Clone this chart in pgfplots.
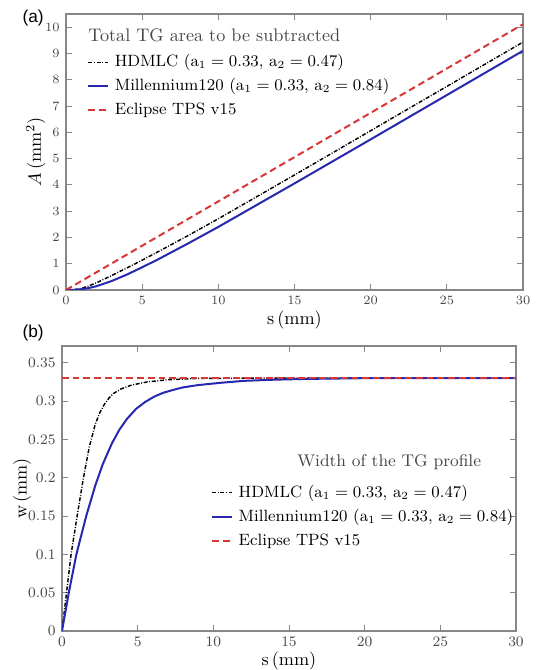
\documentclass[border=0pt]{standalone}
\usepackage{fontspec}
\usepackage{pgfplots}
\pgfplotsset{compat=1.18}
\newfontfamily\panelfont{Liberation Sans}

\definecolor{mblue}{RGB}{40,40,175}
\definecolor{mred}{RGB}{215,55,55}
\definecolor{axgray}{RGB}{135,135,135}
\definecolor{txtgray}{RGB}{70,70,70}

\pgfplotsset{
  panel/.style={
    scale only axis,
    anchor=south west,
    xmin=0, xmax=30, xtick={0,5,...,30},
    axis line style={axgray, line width=0.6pt},
    tick style={axgray, line width=0.5pt},
    major tick length=3.3pt,
    tick align=inside,
    tick label style={txtgray},
    label style={font=\fontsize{10}{12}\selectfont, txtgray},
    legend cell align=left,
    legend style={draw=none, fill=none, inner sep=0pt, row sep=1.2pt,
      column sep=2pt, anchor=north west, font=\fontsize{9}{11}\selectfont,
      nodes={inner sep=1pt, text height=7.5pt, text depth=2.5pt}},
    legend image code/.code={\draw[##1] (0pt,0pt) -- (11pt,0pt);},
  },
  hdmlc/.style={black, line width=0.8pt, dash pattern=on 2.2pt off 0.9pt on 0.5pt off 0.9pt},
  mill/.style={mblue, line width=1.1pt},
  ecl/.style={mred, line width=1.1pt, dash pattern=on 3.7pt off 2.2pt},
}

\begin{document}
\begin{tikzpicture}
\useasboundingbox (0,0) rectangle (294.8pt,368.5pt);

% (a) total area
\begin{axis}[panel,
  at={(36.3pt,209pt)}, width=251.35pt, height=151.8pt,
  ymin=0, ymax=10.5, ytick={0,1,...,10},
  tick label style={font=\fontsize{7.2}{8}\selectfont},
  xlabel={s\,(mm)}, ylabel={$A\,(\mathrm{mm}^2)$},
  every axis x label/.style={at={(axis description cs:0.5,-0.109)}, anchor=center},
  every axis y label/.style={at={(axis description cs:-0.066,0.5)}, rotate=90, anchor=center},
  legend style={at={(axis description cs:0.046,0.866)}},
]
\addplot[hdmlc] coordinates {
 (0,0) (0.5,0.01) (1,0.057) (1.5,0.156) (2,0.274) (3,0.551) (4,0.838) (5,1.135)
 (6,1.442) (8,2.066) (10,2.71) (15,4.375) (20,6.06) (25,7.745) (30,9.43)};
\addlegendentry{HDMLC ($\mathrm{a_1 = 0.33}$, $\mathrm{a_2 = 0.47}$)}
\addplot[mill] coordinates {
 (0,0) (0.5,0.0035) (1,0.027) (1.5,0.0755) (2,0.144) (3,0.341) (4,0.588) (5,0.865)
 (6,1.152) (8,1.766) (10,2.40) (15,4.055) (20,5.73) (25,7.415) (30,9.10)};
\addlegendentry{Millennium120 ($\mathrm{a_1 = 0.33}$, $\mathrm{a_2 = 0.84}$)}
\addplot[ecl] coordinates {(0,0) (30,10.11)};
\addlegendentry{Eclipse TPS v15}
\end{axis}
\node[anchor=base west, inner sep=0pt, font=\fontsize{10}{12}\selectfont, txtgray] at (48.4pt,345.6pt) {Total TG area to be subtracted};

% (b) width
\begin{axis}[panel,
  at={(34.1pt,21.45pt)}, width=249.7pt, height=156.75pt,
  ymin=0, ymax=0.372, ytick={0,0.05,0.1,0.15,0.2,0.25,0.3,0.35},
  yticklabel style={/pgf/number format/fixed},
  tick label style={font=\fontsize{8}{9}\selectfont},
  xlabel={s\,(mm)}, ylabel={w\,(mm)},
  every axis x label/.style={at={(axis description cs:0.5,-0.105)}, anchor=center},
  every axis y label/.style={at={(axis description cs:-0.088,0.5)}, rotate=90, anchor=center},
  legend style={at={(axis description cs:0.328,0.525)}},
]
\addplot[hdmlc] coordinates {
 (0,0) (0.3,0.05) (0.6,0.1) (1.0,0.15) (1.4,0.198) (1.8,0.24) (2.2,0.27) (2.5,0.285)
 (2.8,0.296) (3.1,0.304) (3.4,0.31) (3.9,0.316) (4.6,0.321) (5.6,0.325) (7,0.328)
 (9,0.3297) (12,0.33) (30,0.33)};
\addlegendentry{HDMLC ($\mathrm{a_1 = 0.33}$, $\mathrm{a_2 = 0.47}$)}
\addplot[mill] coordinates {
 (0,0) (0.45,0.05) (0.95,0.1) (1.6,0.15) (2.2,0.19) (2.7,0.218) (3.3,0.245) (3.8,0.263)
 (4.3,0.277) (4.9,0.29) (5.5,0.299) (6.1,0.306) (6.7,0.311) (7.4,0.315) (8,0.318)
 (9,0.321) (10.5,0.324) (12,0.3265) (14,0.328) (16,0.329) (20,0.33) (30,0.33)};
\addlegendentry{Millennium120 ($\mathrm{a_1 = 0.33}$, $\mathrm{a_2 = 0.84}$)}
\addplot[ecl] coordinates {(0,0.33) (30,0.33)};
\addlegendentry{Eclipse TPS v15}
\end{axis}
\node[anchor=base west, inner sep=0pt, font=\fontsize{9.3}{11}\selectfont, txtgray] at (163.35pt,111.65pt) {Width of the TG profile};

\node[font=\panelfont\fontsize{9.5}{11}\selectfont] at (18.2pt,358.6pt) {(a)};
\node[font=\panelfont\fontsize{9.5}{11}\selectfont] at (18.2pt,185.2pt) {(b)};
\end{tikzpicture}
\end{document}
